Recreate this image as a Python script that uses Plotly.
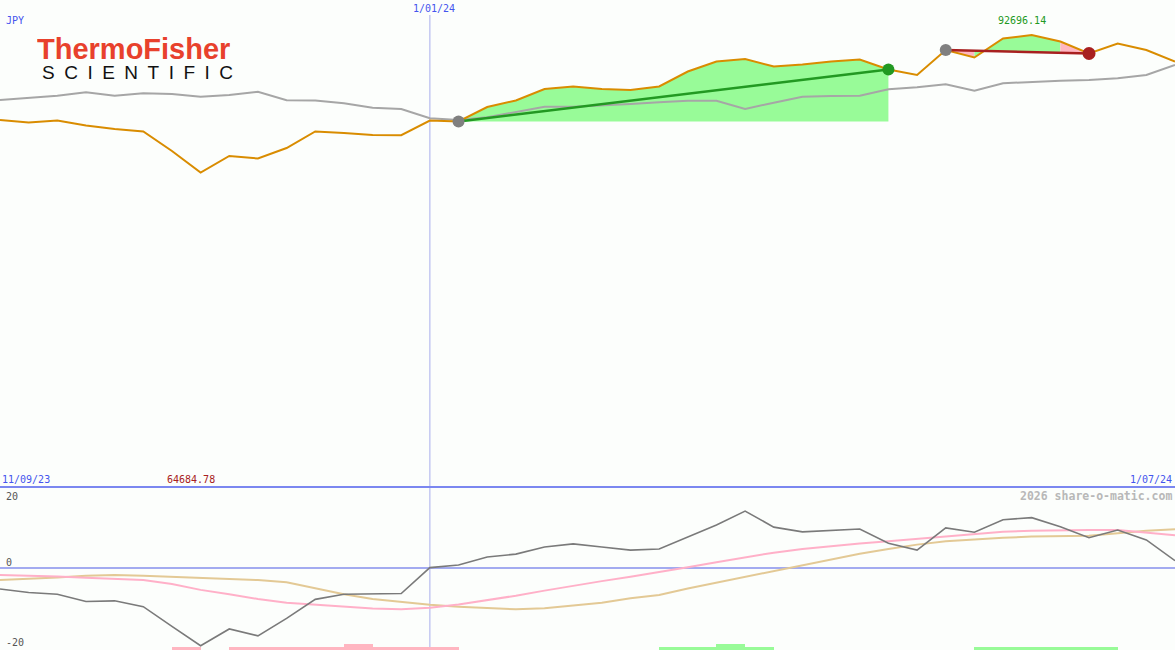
import pandas as pd
import plotly.graph_objects as go

# ---------------- data ----------------
dates = pd.date_range("2023-09-18", periods=42, freq="7D")

price = [75380, 74871, 75278, 74260, 73547, 73037, 69065, 64684.78, 68046, 67537,
         69676, 73037, 72732, 72324, 72280, 75278, 75075, 78029, 79353, 81696,
         82205, 81696, 81492, 82205, 85261, 87298, 87807, 86279, 86687, 87298,
         87705, 85668, 84548, 89641, 88113, 91983, 92696.14, 91372, 88928, 90965,
         89641, 87298]

compare = [79455, 79923, 80331, 81023, 80331, 80820, 80677, 80127, 80473, 81146,
           79394, 79353, 78782, 77886, 77621, 75727, 75380, 75930, 77071, 78090,
           78090, 78293, 78640, 78986, 79312, 79290, 77621, 78905, 80127, 80269,
           80331, 81635, 82042, 82653, 81349, 82857, 83183, 83386, 83529, 83875,
           84548, 86585]

momentum = [-5.75, -6.7, -7.2, -9.2, -9.0, -10.6, -16.0, -21.3, -16.7, -18.6,
            -13.8, -8.6, -7.2, -7.1, -7.0, 0.1, 0.8, 3.0, 3.8, 5.75,
            6.6, 5.75, 4.9, 5.2, 8.5, 11.8, 15.6, 11.2, 9.9, 10.4,
            10.7, 6.8, 4.9, 11.0, 9.8, 13.2, 13.8, 11.3, 8.3, 10.4,
            7.7, 2.0]

signal_pink = [-1.9, -2.0, -2.3, -2.7, -2.9, -3.3, -4.4, -6.0, -7.2, -8.5,
               -9.5, -10.1, -10.7, -11.1, -11.3, -10.9, -10.0, -8.9, -7.6, -6.2,
               -4.8, -3.6, -2.4, -1.2, 0.2, 1.6, 3.0, 4.2, 5.2, 6.0,
               6.7, 7.3, 7.9, 8.6, 9.3, 9.9, 10.2, 10.4, 10.4, 10.4,
               9.8, 9.0]

signal_tan = [-3.3, -3.0, -2.6, -2.1, -1.9, -2.1, -2.4, -2.7, -3.0, -3.3,
              -3.9, -5.6, -7.2, -8.5, -9.4, -10.1, -10.6, -11.0, -11.3, -11.0,
              -10.2, -9.5, -8.3, -7.4, -5.6, -4.0, -2.6, -0.9, 0.8, 2.4,
              3.9, 5.2, 6.4, 7.3, 7.9, 8.3, 8.6, 8.7, 8.8, 9.5,
              10.2, 10.6]

# bar level per weekly interval (41 intervals): negative = pink, positive = green
bar_level = [0, 0, 0, 0, 0, 0, -1, 0, -1, -1,
             -1, -1, -2, -1, -1, -1, 0, 0, 0, 0,
             0, 0, 0, 1, 1, 2, 1, 0, 0, 0,
             0, 0, 0, 0, 1, 1, 1, 1, 1, 0,
             0]

trade1 = (16, 31)   # entry, exit index (win)
trade2 = (33, 38)   # entry, exit index (loss)
trade2_fill = ["pink", "green", "green", "green", "pink"]

low_label = "64684.78"
high_label = "92696.14"

# ---------------- styling ----------------
BG = "#fcfefc"
ORANGE = "#d98c00"
GREY = "#a6a6a6"
GREEN_FILL = "#98fb98"
PINK_FILL = "#ffb6c1"
GREEN_LINE = "#229922"
RED_LINE = "#a82020"
MONO = "DejaVu Sans Mono"

X = list(dates)
fig = go.Figure()

# trade 1 fill (to entry level)
e, x_ = trade1
fx = X[e:x_ + 1] + [X[x_], X[e]]
fy = price[e:x_ + 1] + [price[e], price[e]]
fig.add_trace(go.Scatter(x=fx, y=fy, fill="toself", fillcolor=GREEN_FILL, mode="lines",
                         line=dict(width=0), hoverinfo="skip"))

# trade 2 fills (between price and trade line)
e2, x2 = trade2
def tline(k):
    return price[e2] + (price[x2] - price[e2]) * (k - e2) / (x2 - e2)

runs = []
k = e2
while k < x2:
    c = trade2_fill[k - e2]
    j = k
    while j < x2 and trade2_fill[j - e2] == c:
        j += 1
    runs.append((k, j, c))
    k = j
for a, b, c in runs:
    idx = list(range(a, b + 1))
    px_ = [X[i] for i in idx] + [X[i] for i in reversed(idx)]
    py_ = [price[i] for i in idx] + [tline(i) for i in reversed(idx)]
    fig.add_trace(go.Scatter(x=px_, y=py_, fill="toself",
                             fillcolor=GREEN_FILL if c == "green" else PINK_FILL,
                             mode="lines", line=dict(width=0), hoverinfo="skip"))

# comparison line and price line
fig.add_trace(go.Scatter(x=X, y=compare, mode="lines", line=dict(color=GREY, width=2)))
fig.add_trace(go.Scatter(x=X, y=price, mode="lines", line=dict(color=ORANGE, width=2)))

# trade lines
fig.add_trace(go.Scatter(x=[X[e], X[x_]], y=[price[e], price[x_]], mode="lines",
                         line=dict(color=GREEN_LINE, width=2.5)))
fig.add_trace(go.Scatter(x=[X[e2], X[x2]], y=[price[e2], price[x2]], mode="lines",
                         line=dict(color=RED_LINE, width=2.5)))
# markers
fig.add_trace(go.Scatter(x=[X[e], X[e2]], y=[price[e], price[e2]], mode="markers",
                         marker=dict(color="#808080", size=12)))
fig.add_trace(go.Scatter(x=[X[x_]], y=[price[x_]], mode="markers",
                         marker=dict(color=GREEN_LINE, size=12)))
fig.add_trace(go.Scatter(x=[X[x2]], y=[price[x2]], mode="markers",
                         marker=dict(color=RED_LINE, size=13)))

# ---------------- lower panel ----------------
Y2_LO, Y2_HI = -22.47, 22.19
unit_h = 0.82
mid = [d + pd.Timedelta(days=3.5) for d in dates[:-1]]
fig.add_trace(go.Bar(x=mid, y=[abs(v) * unit_h for v in bar_level], base=Y2_LO,
                     width=7 * 24 * 3600 * 1000,
                     marker=dict(color=[PINK_FILL if v < 0 else GREEN_FILL for v in bar_level],
                                 line=dict(width=0)),
                     yaxis="y2"))
fig.add_trace(go.Scatter(x=X, y=signal_tan, mode="lines", line=dict(color="#e3c995", width=2), yaxis="y2"))
fig.add_trace(go.Scatter(x=X, y=signal_pink, mode="lines", line=dict(color="#ffb0c8", width=2), yaxis="y2"))
fig.add_trace(go.Scatter(x=X, y=momentum, mode="lines", line=dict(color="#7a7a7a", width=1.6), yaxis="y2"))

H = 650.0
W = 1175.0
split = 1 - 487 / H

fig.update_layout(
    width=1175, height=650, margin=dict(l=0, r=0, t=0, b=0),
    paper_bgcolor=BG, plot_bgcolor=BG, showlegend=False, bargap=0,
    hovermode=False,
    xaxis=dict(range=[dates[0], dates[-1]], visible=False, showgrid=False),
    yaxis=dict(domain=[split, 1], range=[615, 99827], visible=False, showgrid=False),
    yaxis2=dict(domain=[0, split], range=[Y2_LO, Y2_HI], visible=False, showgrid=False,
                anchor="x"),
)

shapes = [
    dict(type="line", xref="x", yref="paper", x0=pd.Timestamp("2024-01-01"),
         x1=pd.Timestamp("2024-01-01"), y0=0, y1=1 - 15 / H,
         line=dict(color="#a8aeec", width=1), layer="below"),
    dict(type="line", xref="paper", yref="paper", x0=0, x1=1, y0=split, y1=split,
         line=dict(color="#7b87f0", width=2)),
    dict(type="line", xref="paper", yref="y2", x0=0, x1=1, y0=0, y1=0,
         line=dict(color="#a3abf0", width=2), layer="below"),
]
fig.update_layout(shapes=shapes)

def ann(text, xpx, ypx, color, size=10, xanchor="center", family=MONO, bold=False,
        height=None):
    if bold:
        text = "<b>" + text + "</b>"
    fig.add_annotation(text=text, x=xpx / W, y=1 - ypx / H, xref="paper", yref="paper",
                       xanchor=xanchor, yanchor="middle", showarrow=False,
                       height=height, borderpad=0,
                       font=dict(family=family, size=size, color=color))

BLUE = "#4455ee"
ann("JPY", 5, 21, BLUE, xanchor="left")
ann("1/01/24", 434, 9, BLUE)
ann(high_label, 1022, 21, "#229922")
ann("11/09/23", 1, 479, BLUE, xanchor="left")
ann(low_label, 191, 479, "#a82020")
ann("1/07/24", 1173, 479, BLUE, xanchor="right")
ann("2026 share-o-matic.com", 1173, 496, "#b8b8b8", size=11.5, xanchor="right", bold=True)
ann("20", 5, 496, "#555555", xanchor="left")
ann("0", 5, 562, "#555555", xanchor="left")
ann("-20", 5, 642, "#555555", xanchor="left")

# logo
ann("ThermoFisher", 36, 49, "#e8412c", size=29, xanchor="left",
    family="Liberation Sans", bold=True, height=24)
ann("\u2002".join("SCIENTIFIC"), 41, 72, "#111111", size=19, xanchor="left",
    family="Liberation Sans", height=16)

fig.write_html("out.html", config={"displayModeBar": False},
               post_script="document.body.style.margin='0';document.body.style.overflow='hidden';")
